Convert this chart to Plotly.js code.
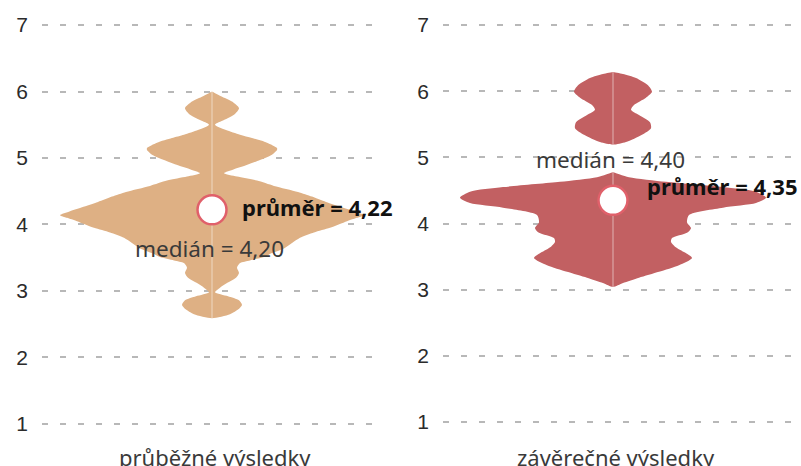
<!DOCTYPE html>
<html>
<head>
<meta charset="utf-8">
<script src="https://cdn.plot.ly/plotly-3.0.1.min.js"></script>
<style>html,body{margin:0;padding:0;background:#fff;}#chart{width:801px;height:466px;}</style>
</head>
<body>
<div id="chart"></div>
<script>
// ---- data ----
const categories = ["průběžné výsledky", "závěrečné výsledky"];
const means = [4.22, 4.35];
const medians = [4.20, 4.40];
const meanLabels = ["průměr = 4,22", "průměr = 4,35"];
const medianLabels = ["medián = 4,20", "medián = 4,40"];
const yTicks = [1, 2, 3, 4, 5, 6, 7];

// density outline of the first violin: value and half width
const leftDensityY = [2.59, 2.65, 2.72, 2.79, 2.86, 2.92, 2.98, 3.05, 3.12, 3.20, 3.27, 3.35, 3.42, 3.46, 3.51, 3.57, 3.64, 3.72, 3.80, 3.88, 3.95, 4.05, 4.10, 4.14, 4.20, 4.26, 4.34, 4.42, 4.49, 4.58, 4.66, 4.72, 4.77, 4.83, 4.89, 4.97, 5.05, 5.12, 5.15, 5.23, 5.30, 5.35, 5.42, 5.50, 5.57, 5.65, 5.75, 5.85, 5.93, 6.00];
const leftDensityW = [0, 18, 26, 30, 27, 16, 3, 8, 15, 24, 27, 25, 28, 38, 52, 60, 72, 80, 88, 102, 118, 135, 145, 152, 142, 130, 114, 100, 86, 62, 45, 25, 12, 22, 34, 48, 60, 65, 65, 55, 40, 28, 14, 3, 12, 22, 27, 20, 9, 0];

// density outline of the second violin
const rightDensityY = [3.04, 3.10, 3.18, 3.27, 3.37, 3.48, 3.56, 3.65, 3.72, 3.78, 3.86, 3.93, 4.02, 4.13, 4.24, 4.31, 4.39, 4.48, 4.55, 4.63, 4.70, 4.78, 5.19, 5.23, 5.34, 5.44, 5.53, 5.64, 5.72, 5.79, 5.90, 5.99, 6.09, 6.20, 6.26, 6.29];
const rightDensityW = [0, 10, 26, 46, 66, 79, 72, 62, 58, 59, 74, 78, 74, 76, 110, 143, 153, 143, 110, 53, 16, 0, 0, 13, 29, 38, 37, 26, 18, 21, 33, 39, 35, 23, 10, 0];

const fills = ["#DEB084", "#C26062"];

// split an outline into separate lobes where two zero widths follow each other
function lobes(ys, ws) {
  const out = [];
  let cy = [], cw = [];
  for (let i = 0; i < ys.length; i++) {
    cy.push(ys[i]); cw.push(ws[i]);
    if (ws[i] === 0 && i + 1 < ys.length && ws[i + 1] === 0) {
      out.push([cy, cw]); cy = []; cw = [];
    }
  }
  if (cy.length) out.push([cy, cw]);
  return out;
}
function violinTraces(ys, ws, xa, ya, color) {
  return lobes(ys, ws).map(([ly, lw]) => {
    const x = lw.concat(lw.slice().reverse().map(w => -w));
    const y = ly.concat(ly.slice().reverse());
    return {type: "scatter", mode: "lines", x: x, y: y, xaxis: xa, yaxis: ya,
      fill: "toself", fillcolor: color, line: {width: 0, color: color, shape: "spline", smoothing: 0.7},
      hoverinfo: "skip", showlegend: false};
  });
}
function centerLine(ys, xa, ya) {
  return {type: "scatter", mode: "lines", x: [0, 0], y: [Math.min(...ys), Math.max(...ys)], xaxis: xa, yaxis: ya,
    line: {color: "rgba(255,255,255,0.35)", width: 1.5}, hoverinfo: "skip", showlegend: false};
}
function meanTrace(i, xa, ya) {
  return {type: "scatter", mode: "markers", x: [0], y: [means[i]], xaxis: xa, yaxis: ya,
    marker: {size: 29, color: "#ffffff", line: {color: "#E0606A", width: 2.5}}, hoverinfo: "skip", showlegend: false};
}

const traces = [].concat(
  violinTraces(leftDensityY, leftDensityW, "x", "y", fills[0]),
  [centerLine(leftDensityY, "x", "y"), meanTrace(0, "x", "y")],
  violinTraces(rightDensityY, rightDensityW, "x2", "y2", fills[1]),
  [centerLine(rightDensityY, "x2", "y2"), meanTrace(1, "x2", "y2")]
);

const yCommon = {
  tickvals: yTicks, ticktext: yTicks.map(String), showgrid: true, gridcolor: "#b8b8b8", gridwidth: 2,
  griddash: "6px,12px", zeroline: false, showline: false, ticks: "",
  tickfont: {family: "Liberation Sans, Arial, sans-serif", size: 21, color: "#2b2b2b"},
  ticklabelstandoff: 13, fixedrange: true
};

const labelFont = {family: "Noto Sans, sans-serif", size: 22.5, color: "#3a3a3a"};
const boldFont = {family: "Noto Sans, sans-serif", size: 22, color: "#111111"};
const catFont = {family: "Noto Sans, sans-serif", size: 22, color: "#3a3a3a"};

const annotations = [
  {xref: "x", yref: "y", x: 0, y: means[0], text: "<b>" + meanLabels[0] + "</b>", showarrow: false, xanchor: "left", xshift: 28, yshift: 3, font: boldFont},
  {xref: "x", yref: "y", x: 0, y: medians[0], text: medianLabels[0], showarrow: false, xanchor: "center", xshift: -3, yshift: -37, font: labelFont},
  {xref: "x2", yref: "y2", x: 0, y: means[1], text: "<b>" + meanLabels[1] + "</b>", showarrow: false, xanchor: "left", xshift: 32, yshift: 14, font: boldFont},
  {xref: "x2", yref: "y2", x: 0, y: medians[1], text: medianLabels[1], showarrow: false, xanchor: "center", xshift: -3, yshift: 38, font: labelFont},
  {xref: "x", yref: "paper", x: 0, y: 0, text: categories[0], showarrow: false, xanchor: "center", yanchor: "bottom", yshift: -8, xshift: 3, font: catFont},
  {xref: "x2", yref: "paper", x: 0, y: 0, text: categories[1], showarrow: false, xanchor: "center", yanchor: "bottom", yshift: -8, xshift: 3, font: catFont}
];

const layout = {
  width: 801, height: 466,
  margin: {l: 0, r: 0, t: 0, b: 0},
  paper_bgcolor: "#ffffff", plot_bgcolor: "#ffffff",
  showlegend: false,
  xaxis: {domain: [42/801, 382/801], range: [-170, 170], showgrid: false, zeroline: false, showticklabels: false, showline: false, fixedrange: true},
  xaxis2: {domain: [443/801, 1], range: [-170, 188], showgrid: false, zeroline: false, showticklabels: false, showline: false, fixedrange: true, anchor: "y2"},
  yaxis: Object.assign({}, yCommon, {domain: [0, 1], range: [0.368, 7.376], anchor: "x"}),
  yaxis2: Object.assign({}, yCommon, {domain: [0, 1], range: [0.335, 7.378], anchor: "x2"}),
  annotations: annotations
};

Plotly.newPlot("chart", traces, layout, {displayModeBar: false, staticPlot: true});
</script>
</body>
</html>
